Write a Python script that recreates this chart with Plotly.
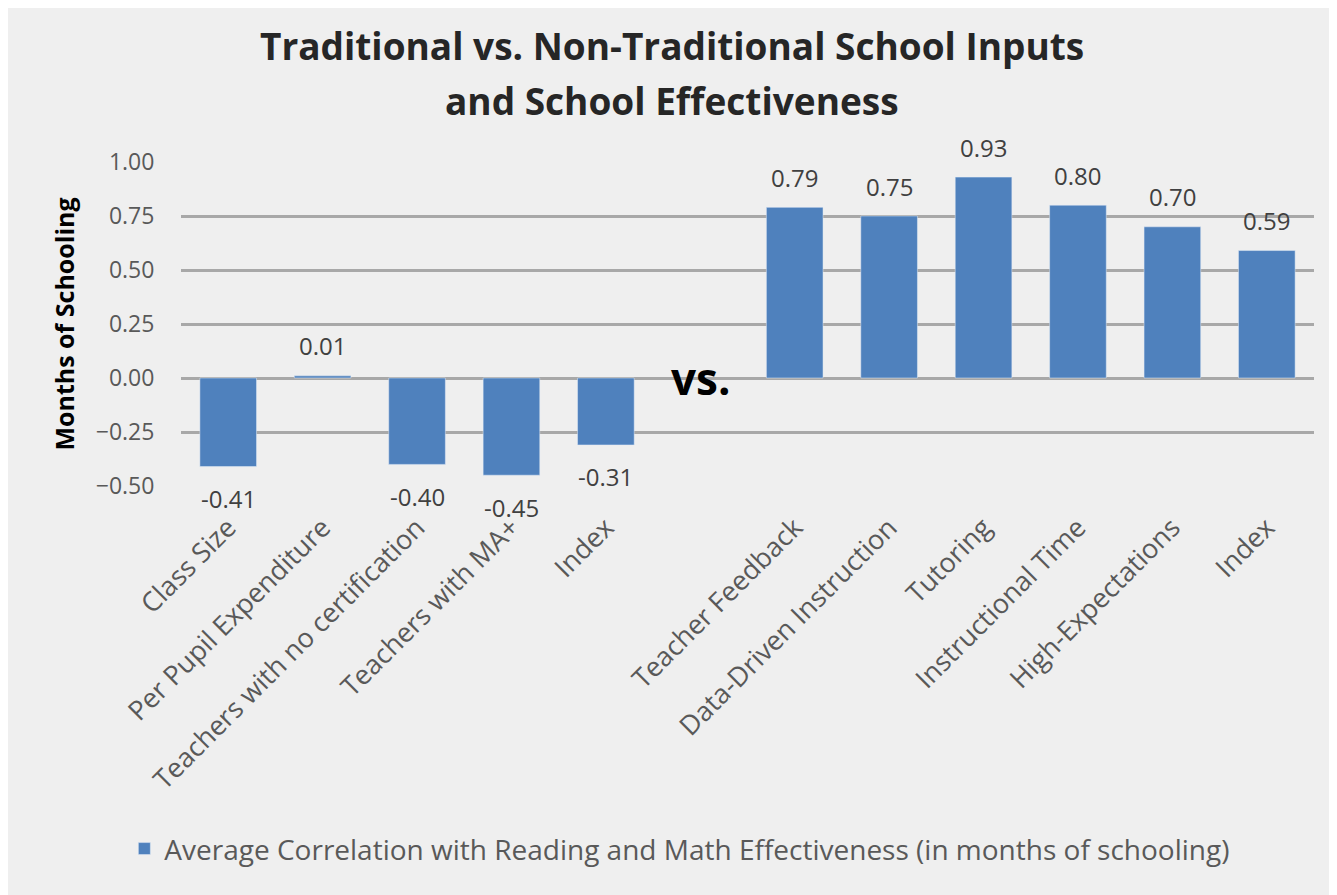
import plotly.graph_objects as go

# categories: 5 traditional inputs, an empty slot for "vs.", 6 non-traditional
categories = [
    "Class Size", "Per Pupil Expenditure", "Teachers with no certification",
    "Teachers with MA+", "Index", "",
    "Teacher Feedback", "Data-Driven Instruction", "Tutoring",
    "Instructional Time", "High-Expectations", "Index",
]
values = [-0.41, 0.01, -0.40, -0.45, -0.31, None,
          0.79, 0.75, 0.93, 0.80, 0.70, 0.59]
y_ticks = [-0.50, -0.25, 0.00, 0.25, 0.50, 0.75, 1.00]

BAR = "#4f81bd"
BG = "#efefef"
GRID = "#a8a8a8"
TEXT = "#595959"
FONT = "Open Sans"

positions = list(range(len(categories)))

fig = go.Figure(go.Bar(
    x=positions, y=values, marker_color=BAR, width=0.6,
    name="Average Correlation with Reading and Math Effectiveness (in months of schooling)",
    showlegend=True,
))

# value labels sit a little off the bar ends, like Excel's "outside end"
for pos, val in zip(positions, values):
    if val is None:
        continue
    fig.add_annotation(x=pos, y=val, text=f"{val:.2f}", showarrow=False,
                       yshift=30 if val >= 0 else -32, yanchor="middle",
                       font=dict(size=24, color="#404040", family=FONT))

fig.add_annotation(x=5, y=0, text="<b>vs.</b>", showarrow=False,
                   font=dict(size=44, color="#000000", family=FONT),
                   xanchor="center", yanchor="middle")

# two title lines as separate annotations to match the wide line spacing
fig.add_annotation(xref="paper", yref="paper", x=0.433, y=1.0, yshift=117,
                   text="<b>Traditional vs. Non-Traditional School Inputs</b>",
                   showarrow=False, font=dict(size=37, color="#262626", family=FONT),
                   xanchor="center", yanchor="middle")
fig.add_annotation(xref="paper", yref="paper", x=0.433, y=1.0, yshift=62,
                   text="<b>and School Effectiveness</b>",
                   showarrow=False, font=dict(size=37, color="#262626", family=FONT),
                   xanchor="center", yanchor="middle")

fig.update_layout(
    width=1337, height=895,
    margin=dict(l=173, r=31, t=154, b=417),
    paper_bgcolor=BG, plot_bgcolor=BG,
    font=dict(family=FONT, color=TEXT),
    legend=dict(orientation="h", x=-0.05, xanchor="left", y=-1.12, yanchor="middle",
                font=dict(size=28, color=TEXT, family=FONT), bgcolor="rgba(0,0,0,0)",
                itemwidth=30),
    xaxis=dict(tickvals=positions, ticktext=categories, tickangle=-45,
               range=[-0.5, len(categories) - 0.5],
               tickfont=dict(size=27, color=TEXT), showgrid=False, zeroline=False,
               showline=False, ticks="outside", ticklen=14, tickcolor=BG),
    yaxis=dict(range=[-0.5, 1.0], tickvals=y_ticks, tickformat=".2f",
               tickfont=dict(size=23, color=TEXT), gridcolor=GRID, gridwidth=2.5,
               zeroline=False, showline=False, ticks="outside", ticklen=21, tickcolor=BG,
               title=dict(text="<b>Months of Schooling</b>", standoff=13,
                          font=dict(size=25, color="#000000"))),
)

fig.write_html("out.html")
